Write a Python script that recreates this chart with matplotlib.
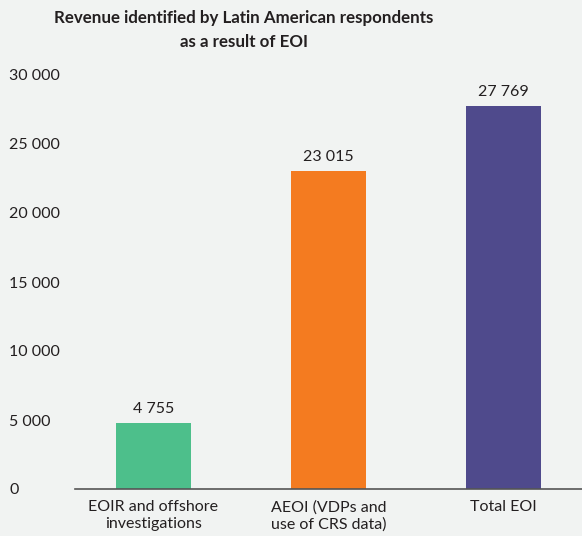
import matplotlib
matplotlib.use("Agg")
import matplotlib.pyplot as plt

categories = ["EOIR and offshore\ninvestigations", "AEOI (VDPs and\nuse of CRS data)", "Total EOI"]
values = [4755, 23015, 27769]
colors = ["#4dbf8b", "#f47b20", "#4f4a8c"]
yticks = [0, 5000, 10000, 15000, 20000, 25000, 30000]

def fmt(v):
    return f"{v:,}".replace(",", " ")

plt.rcParams['font.family'] = ['Lato', 'DejaVu Sans']
bg = "#f1f3f2"
fs = 11.5
fig = plt.figure(figsize=(5.82, 5.36), dpi=100, facecolor=bg)
ax = fig.add_axes([75/582, 1-489/536, 1-75/582, (489-75)/536], facecolor=bg)

x = list(range(len(categories)))
bars = ax.bar(x, values, width=75/175, color=colors)
for xi, v in zip(x, values):
    ax.annotate(fmt(v), (xi, v), xytext=(0, 5), textcoords="offset points",
                ha="center", va="bottom", fontsize=fs, color="#231f20")

ax.set_xlim(-(153.5-75)/175, 2 + (582-503.5)/175)
ax.set_ylim(0, 30000)
ax.set_yticks(yticks)
ax.set_yticklabels([fmt(t) for t in yticks], fontsize=fs, color="#231f20")
for lab in ax.get_yticklabels():
    lab.set_horizontalalignment("left")
ax.tick_params(axis="y", length=0, pad=47.5)
ax.set_xticks(x)
ax.set_xticklabels(categories, fontsize=fs, color="#231f20", linespacing=1.3)
ax.tick_params(axis="x", length=0, pad=8)
for s in ["top", "right", "left"]:
    ax.spines[s].set_visible(False)
ax.spines["bottom"].set_color("#555555")
ax.spines["bottom"].set_linewidth(1.2)

fig.text(244/582, 1-10/536, "Revenue identified by Latin American respondents\nas a result of EOI",
         ha="center", va="top", fontsize=12.2, fontweight="bold", color="#231f20", linespacing=1.65)

fig.savefig("out.png", dpi=100, facecolor=bg)
